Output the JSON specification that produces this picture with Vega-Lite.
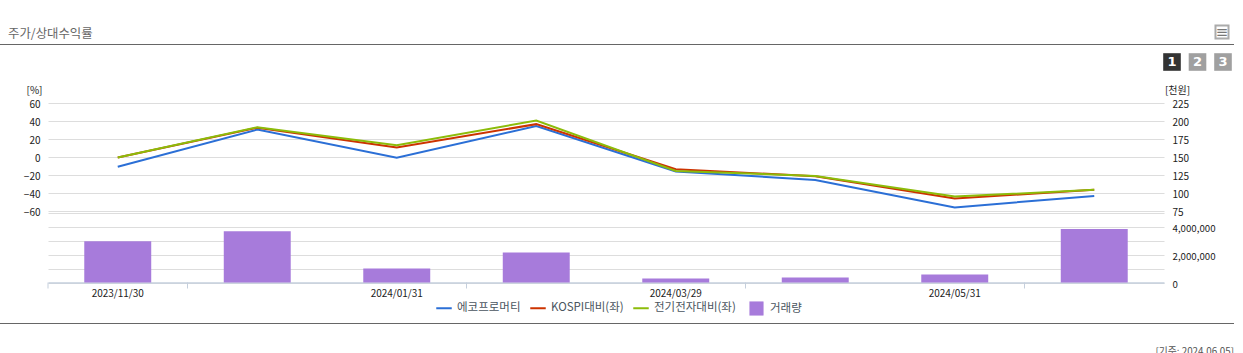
{"$schema":"https://vega.github.io/schema/vega-lite/v6.json","width":1116,"height":179.5,"autosize":{"type":"none"},"padding":{"left":48,"top":103,"right":79,"bottom":70.5},"background":"white","config":{"font":"Noto Sans CJK KR","view":{"stroke":null},"axis":{"labelFont":"Noto Sans CJK KR","titleFont":"Noto Sans CJK KR"},"legend":{"labelFont":"Noto Sans CJK KR"}},
"datasets":{
"volume":[{"date":"2023/11/30","volume":2960000},{"date":"2023/12/28","volume":3680000},{"date":"2024/01/31","volume":1000000},{"date":"2024/02/29","volume":2150000},{"date":"2024/03/29","volume":290000},{"date":"2024/04/30","volume":360000},{"date":"2024/05/31","volume":570000},{"date":"2024/06/05","volume":3840000}],
"price":[{"date":"2023/11/30","series":"에코프로머티","price":136.5},{"date":"2023/12/28","series":"에코프로머티","price":188},{"date":"2024/01/31","series":"에코프로머티","price":149},{"date":"2024/02/29","series":"에코프로머티","price":193},{"date":"2024/03/29","series":"에코프로머티","price":130},{"date":"2024/04/30","series":"에코프로머티","price":118},{"date":"2024/05/31","series":"에코프로머티","price":80},{"date":"2024/06/05","series":"에코프로머티","price":96}],
"returns":[{"date":"2023/11/30","series":"KOSPI대비(좌)","pct":-0.5},{"date":"2023/12/28","series":"KOSPI대비(좌)","pct":32.5},{"date":"2024/01/31","series":"KOSPI대비(좌)","pct":10.5},{"date":"2024/02/29","series":"KOSPI대비(좌)","pct":36.5},{"date":"2024/03/29","series":"KOSPI대비(좌)","pct":-13.5},{"date":"2024/04/30","series":"KOSPI대비(좌)","pct":-21.5},{"date":"2024/05/31","series":"KOSPI대비(좌)","pct":-46},{"date":"2024/06/05","series":"KOSPI대비(좌)","pct":-36.5},{"date":"2023/11/30","series":"전기전자대비(좌)","pct":-0.5},{"date":"2023/12/28","series":"전기전자대비(좌)","pct":33},{"date":"2024/01/31","series":"전기전자대비(좌)","pct":13},{"date":"2024/02/29","series":"전기전자대비(좌)","pct":40.5},{"date":"2024/03/29","series":"전기전자대비(좌)","pct":-15.5},{"date":"2024/04/30","series":"전기전자대비(좌)","pct":-21},{"date":"2024/05/31","series":"전기전자대비(좌)","pct":-44},{"date":"2024/06/05","series":"전기전자대비(좌)","pct":-36.5}]
},
"resolve":{"scale":{"x":"independent","y":"independent","fill":"independent","stroke":"shared"},"axis":{"x":"independent","y":"independent"},"legend":{"fill":"independent","stroke":"independent"}},
"layer":[
{"data":{"name":"volume"},"transform":[{"calculate":"'거래량'","as":"kind"}],"mark":{"type":"bar","width":{"band":0.48},"color":"#a77bdb"},
"encoding":{
"x":{"field":"date","type":"nominal","sort":null,"scale":{"type":"band","paddingInner":0,"paddingOuter":0},"axis":{"orient":"bottom","title":null,"values":["2023/11/30","2024/01/31","2024/03/29","2024/05/31"],"labelAngle":0,"labelFontSize":10,"labelColor":"#222","labelPadding":6,"ticks":false,"domainColor":"#c5cfdc","domainWidth":1.5,"grid":false}},
"y":{"field":"volume","type":"quantitative","scale":{"domain":[0,5000000],"range":[179.5,110],"nice":false},"axis":{"orient":"right","title":null,"values":[0,1000000,2000000,3000000,4000000,5000000],"labelExpr":"datum.value%2000000==0&&datum.value<5000000?format(datum.value,','):''","labelFontSize":9.7,"labelColor":"#222","labelPadding":8,"labelOffset":1.5,"ticks":false,"domain":false,"grid":true,"gridColor":"#dddddd","gridWidth":1}},
"fill":{"field":"kind","type":"nominal","scale":{"domain":["거래량"],"range":["#a77bdb"]},"legend":{"orient":"none","legendX":701,"legendY":198,"title":null,"symbolType":"square","symbolSize":200,"symbolStrokeWidth":0,"labelFontSize":11.5,"labelColor":"#4a5560","labelOffset":6}}
}},
{"data":{"values":[{"date":"2023/11/30"},{"date":"2023/12/28"},{"date":"2024/02/29"},{"date":"2024/04/30"},{"date":"2024/06/05"}]},"mark":{"type":"rule","color":"#c5cfdc","strokeWidth":1,"clip":false},
"encoding":{
"x":{"field":"date","type":"nominal","bandPosition":0,"scale":{"type":"band","domain":["2023/11/30","2023/12/28","2024/01/31","2024/02/29","2024/03/29","2024/04/30","2024/05/31","2024/06/05"],"paddingInner":0,"paddingOuter":0},"axis":null},
"y":{"datum":0,"type":"quantitative","scale":{"domain":[0,1],"range":[179.5,185.5]},"axis":null},
"y2":{"datum":1}
}},
{"data":{"name":"price"},"mark":{"type":"line","strokeWidth":2},
"encoding":{
"x":{"field":"date","type":"nominal","sort":null,"scale":{"type":"band","paddingInner":0,"paddingOuter":0},"axis":null},
"y":{"field":"price","type":"quantitative","scale":{"domain":[75,225],"range":[108,0],"nice":false},"axis":{"orient":"right","title":"[천원]","titleAngle":0,"titleFontSize":10,"titleFontWeight":"normal","titleColor":"#222","titleX":13,"titleY":-8,"titleAlign":"center","values":[75,100,125,150,175,200,225],"labelFontSize":10,"labelColor":"#222","labelPadding":8,"labelOffset":1.5,"ticks":false,"domain":false,"grid":false}},
"stroke":{"field":"series","type":"nominal","scale":{"domain":["에코프로머티","KOSPI대비(좌)","전기전자대비(좌)"],"range":["#2b6fd6","#cc3300","#8cbc0a"]},"legend":{"orient":"none","legendX":387,"legendY":196,"title":null,"direction":"horizontal","columns":3,"symbolType":"stroke","symbolStrokeWidth":2,"symbolSize":240,"labelFontSize":11.5,"labelColor":"#4a5560","labelOffset":4,"columnPadding":5}}
}},
{"data":{"name":"returns"},"mark":{"type":"line","strokeWidth":2},
"encoding":{
"x":{"field":"date","type":"nominal","sort":null,"scale":{"type":"band","paddingInner":0,"paddingOuter":0},"axis":null},
"y":{"field":"pct","type":"quantitative","scale":{"domain":[-60,60],"range":[108,0],"nice":false},"axis":{"orient":"left","title":"[%]","titleAngle":0,"titleFontSize":10,"titleFontWeight":"normal","titleColor":"#222","titleX":-14,"titleY":-8,"titleAlign":"center","values":[-60,-40,-20,0,20,40,60],"labelFontSize":10,"labelColor":"#222","labelPadding":8,"labelOffset":1.5,"ticks":false,"domain":false,"grid":true,"gridColor":"#dddddd","gridWidth":1}},
"stroke":{"field":"series","type":"nominal","legend":null}
}},
{"data":{"values":[{"rule":"header"}]},"mark":{"type":"rule","color":"#666666","strokeWidth":1,"clip":false},
"encoding":{
"x":{"datum":0,"type":"quantitative","scale":{"domain":[0,1],"range":[-48,1186]},"axis":null},
"x2":{"datum":1},
"y":{"datum":0,"type":"quantitative","scale":{"domain":[0,1],"range":[-58.5,220.5]},"axis":null}
}},
{"data":{"values":[{"rule":"footer"}]},"mark":{"type":"rule","color":"#666666","strokeWidth":1,"clip":false},
"encoding":{
"x":{"datum":0,"type":"quantitative","scale":{"domain":[0,1],"range":[-48,1186]},"axis":null},
"x2":{"datum":1},
"y":{"datum":1,"type":"quantitative","scale":{"domain":[0,1],"range":[-58.5,220.5]},"axis":null}
}},
{"data":{"values":[{"t":"주가/상대수익률"}]},"mark":{"type":"text","align":"left","baseline":"middle","fontSize":12.4,"color":"#666666"},
"encoding":{"text":{"field":"t"},
"x":{"datum":0,"type":"quantitative","scale":{"domain":[0,1],"range":[-40,-39]},"axis":null},
"y":{"datum":0,"type":"quantitative","scale":{"domain":[0,1],"range":[-69,-68]},"axis":null}}},
{"data":{"values":[{"t":"[기준: 2024.06.05]"}]},"mark":{"type":"text","align":"right","baseline":"middle","fontSize":9.8,"color":"#555555"},
"encoding":{"text":{"field":"t"},
"x":{"datum":0,"type":"quantitative","scale":{"domain":[0,1],"range":[1186,1187]},"axis":null},
"y":{"datum":0,"type":"quantitative","scale":{"domain":[0,1],"range":[249,250]},"axis":null}}},
{"data":{"values":[{"p":"1","c":"on"},{"p":"2","c":"off"},{"p":"3","c":"off"}]},"mark":{"type":"square","size":310,"opacity":1,"cornerRadius":2},
"encoding":{
"x":{"field":"p","type":"nominal","scale":{"type":"point","domain":["1","2","3"],"range":[1124,1175],"padding":0},"axis":null},
"y":{"datum":0,"type":"quantitative","scale":{"domain":[0,1],"range":[-41,-40]},"axis":null},
"fill":{"field":"c","type":"nominal","scale":{"domain":["on","off"],"range":["#333333","#a0a0a0"]},"legend":null}}},
{"data":{"values":[{"p":"1"},{"p":"2"},{"p":"3"}]},"mark":{"type":"text","fontSize":13,"fontWeight":"bold","color":"white","baseline":"middle","font":"DejaVu Sans"},
"encoding":{"text":{"field":"p"},
"x":{"field":"p","type":"nominal","scale":{"type":"point","domain":["1","2","3"],"range":[1124,1175],"padding":0},"axis":null},
"y":{"datum":0,"type":"quantitative","scale":{"domain":[0,1],"range":[-41,-40]},"axis":null}}},
{"data":{"values":[{"i":"menu"}]},"mark":{"type":"square","size":170,"fill":"#ffffff","stroke":"#888888","strokeWidth":2},
"encoding":{
"x":{"datum":0,"type":"quantitative","scale":{"domain":[0,1],"range":[1174,1175]},"axis":null},
"y":{"datum":0,"type":"quantitative","scale":{"domain":[0,1],"range":[-71,-70]},"axis":null}}},
{"data":{"values":[{"t":"≡"}]},"mark":{"type":"text","fontSize":15,"color":"#777777","baseline":"middle","font":"DejaVu Sans"},
"encoding":{"text":{"field":"t"},
"x":{"datum":0,"type":"quantitative","scale":{"domain":[0,1],"range":[1174,1175]},"axis":null},
"y":{"datum":0,"type":"quantitative","scale":{"domain":[0,1],"range":[-71,-70]},"axis":null}}}
]}
